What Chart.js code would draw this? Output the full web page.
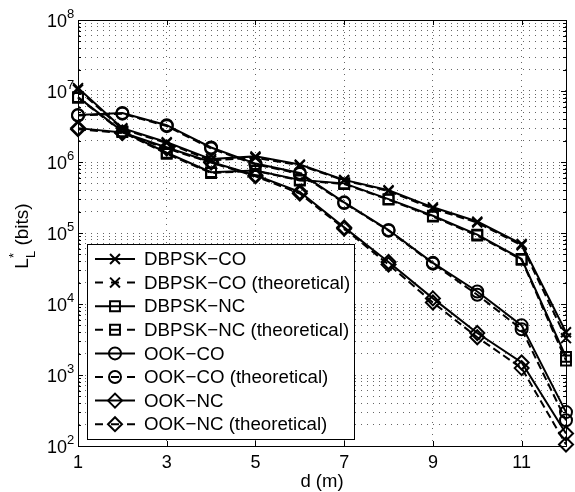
<!DOCTYPE html>
<html>
<head>
<meta charset="utf-8">
<script src="https://cdn.jsdelivr.net/npm/chart.js@4.4.0/dist/chart.umd.min.js"></script>
<style>
  html, body { margin: 0; padding: 0; background: #fff; }
  #wrap { width: 575px; height: 492px; }
</style>
</head>
<body>
<div id="wrap"><canvas id="chart" width="575" height="492"></canvas></div>
<script>
// distances (m)
const distances = [1, 2, 3, 4, 5, 6, 7, 8, 9, 10, 11, 12];
const xTickValues = [1, 3, 5, 7, 9, 11];
const yDecades = [2, 3, 4, 5, 6, 7, 8];

// L_L* (bits)
const dbpskCo   = [1.1e7, 3.0e6, 1.9e6, 1.1e6, 1.2e6, 9.2e5, 5.6e5, 4.0e5, 2.3e5, 1.45e5, 7.0e4, 4.0e3];
const dbpskCoTh = [1.05e7, 2.9e6, 1.85e6, 1.05e6, 1.15e6, 9.0e5, 5.5e5, 3.9e5, 2.2e5, 1.4e5, 6.7e4, 3.3e3];
const dbpskNc   = [8.2e6, 2.7e6, 1.35e6, 7.2e5, 7.6e5, 5.6e5, 5.0e5, 3.0e5, 1.75e5, 9.5e4, 4.3e4, 1.8e3];
const dbpskNcTh = [8.0e6, 2.65e6, 1.3e6, 7.0e5, 7.5e5, 5.5e5, 4.9e5, 2.95e5, 1.7e5, 9.2e4, 4.2e4, 1.6e3];
const ookCo     = [4.6e6, 4.9e6, 3.3e6, 1.6e6, 9.5e5, 7.0e5, 2.7e5, 1.1e5, 3.8e4, 1.5e4, 5.0e3, 300];
const ookCoTh   = [4.5e6, 4.8e6, 3.2e6, 1.55e6, 9.3e5, 6.8e5, 2.65e5, 1.08e5, 3.7e4, 1.35e4, 4.4e3, 230];
const ookNc     = [3.0e6, 2.6e6, 1.6e6, 1.0e6, 6.5e5, 3.8e5, 1.2e5, 3.9e4, 1.2e4, 3.9e3, 1.5e3, 150];
const ookNcTh   = [2.9e6, 2.55e6, 1.55e6, 9.8e5, 6.3e5, 3.6e5, 1.15e5, 3.6e4, 1.05e4, 3.4e3, 1.25e3, 105];

const FONT = '"Liberation Sans", Arial, Helvetica, sans-serif';

// minor + major log grid values
const yTickValues = [];
yDecades.forEach(e => {
  if (e === yDecades[yDecades.length - 1]) { yTickValues.push(Math.pow(10, e)); return; }
  for (let k = 1; k <= 9; k++) yTickValues.push(k * Math.pow(10, e));
});

function series(label, values, style, radius, dashed) {
  return {
    label: label,
    data: values.map((v, i) => ({ x: distances[i], y: v })),
    borderColor: '#000',
    borderWidth: 2,
    borderDash: dashed ? [8, 4] : [],
    pointStyle: style,
    pointRadius: radius,
    pointHoverRadius: radius,
    pointBorderWidth: 2,
    pointBorderColor: '#000',
    pointBackgroundColor: 'rgba(0,0,0,0)',
    tension: 0,
    fill: false,
    clip: false
  };
}

const datasets = [
  series('DBPSK\u2212CO', dbpskCo, 'crossRot', 7, false),
  series('DBPSK\u2212CO (theoretical)', dbpskCoTh, 'crossRot', 7, true),
  series('DBPSK\u2212NC', dbpskNc, 'rect', 7, false),
  series('DBPSK\u2212NC (theoretical)', dbpskNcTh, 'rect', 7, true),
  series('OOK\u2212CO', ookCo, 'circle', 6, false),
  series('OOK\u2212CO (theoretical)', ookCoTh, 'circle', 6, true),
  series('OOK\u2212NC', ookNc, 'rectRot', 7, false),
  series('OOK\u2212NC (theoretical)', ookNcTh, 'rectRot', 7, true)
];

function drawLegend(chart) {
  const ctx = chart.ctx;
  const a = chart.chartArea;
  const left = a.left + 9, top = a.top + 224, w = 267, h = 195;
  ctx.save();
  ctx.fillStyle = '#fff';
  ctx.fillRect(left, top, w, h);
  ctx.strokeStyle = '#000';
  ctx.lineWidth = 1;
  ctx.strokeRect(left + 0.5, top + 0.5, w, h);
  chart.data.datasets.forEach((ds, i) => {
    const y = top + 15 + i * 23.6;
    ctx.strokeStyle = '#000';
    ctx.lineWidth = 2;
    ctx.setLineDash(ds.borderDash.length ? [8, 8, 8, 8, 8] : []);
    ctx.beginPath();
    ctx.moveTo(left + 8, y);
    ctx.lineTo(left + 48, y);
    ctx.stroke();
    ctx.setLineDash([]);
    ctx.fillStyle = 'rgba(0,0,0,0)';
    Chart.helpers.drawPoint(ctx, { pointStyle: ds.pointStyle, radius: ds.pointRadius, borderWidth: 2, rotation: 0 }, left + 28, y);
    ctx.fillStyle = '#000';
    ctx.font = '18.7px ' + FONT;
    ctx.textAlign = 'left';
    ctx.textBaseline = 'middle';
    ctx.fillText(ds.label, left + 57, y + 1);
  });
  ctx.restore();
}

const matlabAxes = {
  id: 'matlabAxes',
  beforeDatasetsDraw(chart) {
    const ctx = chart.ctx;
    const a = chart.chartArea;
    const xs = chart.scales.x, ys = chart.scales.y;
    ctx.save();
    ctx.strokeStyle = '#000';
    ctx.lineWidth = 1;
    ctx.beginPath();
    // inner tick marks
    xTickValues.forEach(v => {
      const px = Math.round(xs.getPixelForValue(v)) + 0.5;
      ctx.moveTo(px, a.bottom); ctx.lineTo(px, a.bottom - 5);
      ctx.moveTo(px, a.top); ctx.lineTo(px, a.top + 5);
    });
    yTickValues.forEach(v => {
      const py = Math.round(ys.getPixelForValue(v)) + 0.5;
      const major = Math.abs(Math.log10(v) - Math.round(Math.log10(v))) < 1e-9;
      const len = major ? 5 : 3;
      ctx.moveTo(a.left, py); ctx.lineTo(a.left + len, py);
      ctx.moveTo(a.right, py); ctx.lineTo(a.right - len, py);
    });
    ctx.stroke();
    ctx.strokeRect(Math.round(a.left) + 0.5, Math.round(a.top) + 0.5, Math.round(a.right - a.left), Math.round(a.bottom - a.top));

    // tick labels
    ctx.fillStyle = '#000';
    ctx.textBaseline = 'middle';
    ctx.font = '18px ' + FONT;
    ctx.textAlign = 'center';
    xTickValues.forEach(v => {
      ctx.fillText(String(v), xs.getPixelForValue(v), a.bottom + 17);
    });
    yDecades.forEach(e => {
      const py = ys.getPixelForValue(Math.pow(10, e));
      const xr = a.left - 11;
      ctx.font = '18px ' + FONT;
      ctx.textAlign = 'right';
      ctx.fillText('10', xr, py + 2);
      ctx.font = '13px ' + FONT;
      ctx.textAlign = 'left';
      ctx.fillText(String(e), xr, py - 6);
    });

    // axis titles
    ctx.font = '18.5px ' + FONT;
    ctx.textAlign = 'center';
    ctx.fillText('d (m)', (a.left + a.right) / 2, a.bottom + 36);

    ctx.translate(28, (a.top + a.bottom) / 2 + 3);
    ctx.rotate(-Math.PI / 2);
    ctx.textBaseline = 'alphabetic';
    ctx.font = '19px ' + FONT;
    const wL = ctx.measureText('L').width;
    const wRest = ctx.measureText(' (bits)').width;
    ctx.font = '13px ' + FONT;
    const wSub = Math.max(ctx.measureText('L').width, ctx.measureText('*').width);
    let x0 = -(wL + wSub + wRest) / 2;
    ctx.textAlign = 'left';
    ctx.font = '19px ' + FONT;
    ctx.fillText('L', x0, 0);
    ctx.font = '13px ' + FONT;
    ctx.fillText('L', x0 + wL, 7);
    ctx.fillText('*', x0 + wL, -10);
    ctx.font = '19px ' + FONT;
    ctx.fillText(' (bits)', x0 + wL + wSub, 0);
    ctx.restore();
  },
  afterDatasetsDraw(chart) {
    drawLegend(chart);
  }
};

new Chart(document.getElementById('chart'), {
  type: 'line',
  data: { datasets: datasets },
  options: {
    responsive: false,
    animation: false,
    events: [],
    layout: { padding: { left: 78, right: 9, top: 20, bottom: 46 } },
    plugins: { legend: { display: false }, tooltip: { enabled: false } },
    scales: {
      x: {
        type: 'linear',
        min: 1,
        max: 12,
        afterBuildTicks: (scale) => { scale.ticks = xTickValues.map(v => ({ value: v })); },
        ticks: { display: false },
        grid: { color: 'rgba(0,0,0,0.6)', lineWidth: 1, drawTicks: false },
        border: { display: true, color: '#000', width: 1, dash: [1, 5] }
      },
      y: {
        type: 'logarithmic',
        min: 100,
        max: 1e8,
        afterBuildTicks: (scale) => { scale.ticks = yTickValues.map(v => ({ value: v })); },
        ticks: { display: false },
        grid: { color: 'rgba(0,0,0,0.6)', lineWidth: 1, drawTicks: false },
        border: { display: true, color: '#000', width: 1, dash: [1, 5] }
      }
    }
  },
  plugins: [matlabAxes]
});
</script>
</body>
</html>
